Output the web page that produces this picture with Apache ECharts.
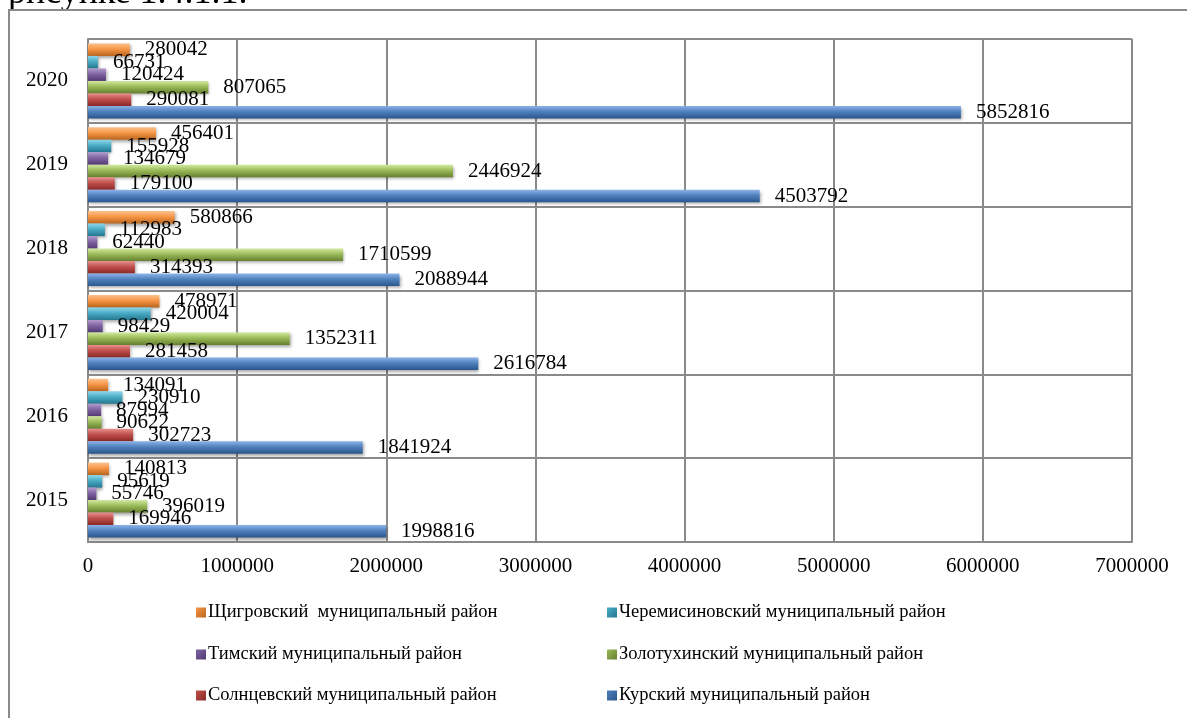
<!DOCTYPE html>
<html>
<head>
<meta charset="utf-8">
<script src="https://cdn.jsdelivr.net/npm/echarts@6/dist/echarts.min.js"></script>
<style>
html,body{margin:0;padding:0;background:#fff;}
#main{width:1187px;height:718px;}
</style>
</head>
<body>
<div id="main"></div>
<script>
const years = ['2015','2016','2017','2018','2019','2020'];
const xTicks = [0,1000000,2000000,3000000,4000000,5000000,6000000,7000000];
const seriesNames = [
  'Щигровский  муниципальный район',
  'Черемисиновский муниципальный район',
  'Тимский муниципальный район',
  'Золотухинский муниципальный район',
  'Солнцевский муниципальный район',
  'Курский муниципальный район'
];
const shchigry   = [140813, 134091, 478971, 580866, 456401, 280042];
const cheremis   = [95619, 230910, 420004, 112983, 155928, 66731];
const tim        = [55746, 87994, 98429, 62440, 134679, 120424];
const zolotukh   = [396019, 90622, 1352311, 1710599, 2446924, 807065];
const solntsevo  = [169946, 302723, 281458, 314393, 179100, 290081];
const kursk      = [1998816, 1841924, 2616784, 2088944, 4503792, 5852816];
const seriesData = [shchigry, cheremis, tim, zolotukh, solntsevo, kursk];

const palette = [
  ['#FBC28E','#F79646','#B8651E'],
  ['#8FD8EA','#4BACC6','#23778F'],
  ['#B39DD0','#8064A2','#513A72'],
  ['#D3E8A0','#9BBB59','#667F2E'],
  ['#E8908E','#C0504D','#8A2826'],
  ['#8DB3E8','#4F81BD','#2A568C']
];
const FONT = '"Liberation Serif","Times New Roman",serif';

function grad(c){
  return new echarts.graphic.LinearGradient(0,0,0,1,[
    {offset:0,color:c[0]},{offset:0.45,color:c[1]},{offset:1,color:c[2]}
  ]);
}
function iconGrad(c){
  return new echarts.graphic.LinearGradient(0,0,1,1,[
    {offset:0,color:c[1]},{offset:1,color:c[2]}
  ]);
}

const series = seriesNames.map((n,i)=>({
  name:n,
  type:'bar',
  data:seriesData[i],
  barWidth:12.5,
  barGap:'0%',
  z:3,
  itemStyle:{color:grad(palette[i]),shadowColor:'rgba(0,0,0,0.35)',shadowBlur:3,shadowOffsetY:2,shadowOffsetX:1},
  label:{show:true,position:'right',distance:15,color:'#000',fontFamily:FONT,fontSize:21},
  emphasis:{disabled:true},
  animation:false
}));

const legendPos = [
  [196,603],[607,603],
  [196,645],[607,645],
  [196,686],[607,686]
];
const legends = seriesNames.map((n,i)=>({
  data:[{name:n,icon:'rect',itemStyle:{color:iconGrad(palette[i]),shadowBlur:0,shadowColor:'transparent'}}],
  left:legendPos[i][0], top:legendPos[i][1],
  padding:0, itemWidth:10, itemHeight:10, itemGap:0,
  textStyle:{fontFamily:FONT,fontSize:18.5,color:'#000',padding:[0,0,0,-3]},
  selectedMode:false
}));

const chart = echarts.init(document.getElementById('main'),null,{renderer:'canvas'});
chart.setOption({
  backgroundColor:'#fff',
  animation:false,
  graphic:[
    {type:'text',left:8,top:-24,z:-20,style:{text:'рисунке 1.4.1.1.',font:'36px '+FONT,fill:'#000'}},
    {type:'rect',z:-10,shape:{x:9,y:10,width:1200,height:720},style:{fill:'#fff',stroke:'#8a8a8a',lineWidth:2}}
  ],
  grid:{left:88,right:55,top:39,bottom:176,containLabel:false,show:false},
  xAxis:{
    type:'value',min:0,max:7000000,interval:1000000,
    axisLine:{show:true,lineStyle:{color:'#8a8a8a',width:2}},
    axisTick:{show:false},
    splitLine:{show:true,lineStyle:{color:'#8a8a8a',width:2}},
    axisLabel:{color:'#000',fontFamily:FONT,fontSize:21,margin:14,
      formatter:v=>String(v)}
  },
  yAxis:{
    type:'category',data:years,
    axisLine:{show:true,lineStyle:{color:'#8a8a8a',width:2}},
    axisTick:{show:false},
    splitLine:{show:true,lineStyle:{color:'#8a8a8a',width:2}},
    axisLabel:{color:'#000',fontFamily:FONT,fontSize:21,margin:20}
  },
  legend:legends,
  series:series
});
</script>
</body>
</html>
